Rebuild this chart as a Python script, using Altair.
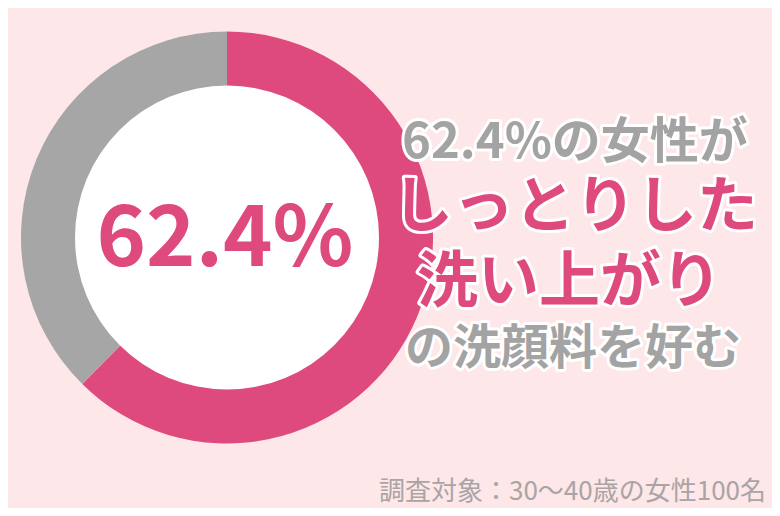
import altair as alt
import pandas as pd

categories = ["しっとりした洗い上がり", "その他"]
values = [62.4, 37.6]
center_label = ["62.4%"]
headline = ["62.4%の女性が", "しっとりした", "洗い上がり", "の洗顔料を好む"]
footnote = ["調査対象：30〜40歳の女性100名"]

PINK = "#df4a7e"
GRAY = "#a6a6a6"
TGRAY = "#a3a3a3"
BG = "#fde7e9"
FONT = "Noto Sans CJK JP"

CX, CY = 219, 229.5

pie_df = pd.DataFrame({"cat": categories, "val": values, "ord": [0, 1]})

pie = alt.Chart(pie_df).mark_arc(outerRadius=206, innerRadius=0, stroke=None).encode(
    theta=alt.Theta("val:Q", stack=True),
    order=alt.Order("ord:Q"),
    color=alt.Color("cat:N", scale=alt.Scale(domain=categories, range=[PINK, GRAY]), legend=None),
    x=alt.value(CX),
    y=alt.value(CY),
)

hole = alt.Chart(pd.DataFrame({"a": [0]})).mark_arc(
    outerRadius=152, theta=0, theta2=6.2832, fill="white"
).encode(x=alt.value(CX), y=alt.value(CY))

center = alt.Chart(pd.DataFrame({"t": center_label})).mark_text(
    font=FONT, fontSize=84, fontWeight="bold", color=PINK, align="center", baseline="middle"
).encode(text="t:N", x=alt.value(CX - 2), y=alt.value(CY + 3))


def outlined(txt, x, y, size, color):
    df = pd.DataFrame({"t": [txt]})
    base = dict(font=FONT, fontSize=size, fontWeight="bold", align="left", baseline="middle")
    under = alt.Chart(df).mark_text(stroke="white", strokeWidth=6, strokeJoin="round", fill="white", **base).encode(
        text="t:N", x=alt.value(x), y=alt.value(y))
    over = alt.Chart(df).mark_text(fill=color, **base).encode(text="t:N", x=alt.value(x), y=alt.value(y))
    return [under, over]


layers = [pie, hole, center]
layers += outlined(headline[0], 394, 135, 49, TGRAY)
layers += outlined(headline[1], 384, 201, 61, PINK)
layers += outlined(headline[2], 409, 276, 61, PINK)
layers += outlined(headline[3], 397, 342, 48, TGRAY)

foot = alt.Chart(pd.DataFrame({"t": footnote})).mark_text(
    font=FONT, fontSize=26, color="#aaa4a4", align="right", baseline="middle"
).encode(text="t:N", x=alt.value(758), y=alt.value(484))
layers.append(foot)

chart = alt.layer(*layers).properties(
    width=764, height=500, background=BG, padding=0, autosize="none"
).configure_view(stroke=None)

chart.save("out.html", embed_options={"renderer": "svg", "actions": False})
